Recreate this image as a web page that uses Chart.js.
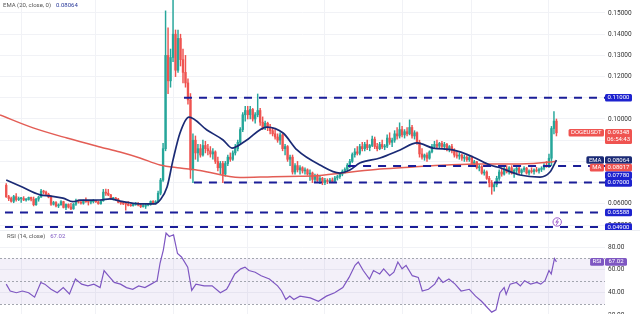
<!DOCTYPE html>
<html><head><meta charset="utf-8">
<script src="https://cdn.jsdelivr.net/npm/chart.js@4"></script>
<style>
html,body{margin:0;padding:0;background:#fff;overflow:hidden;width:640px;height:314px}
#top{position:absolute;left:0;top:0;width:640px;height:231px}
#bot{position:absolute;left:0;top:231px;width:640px;height:92px}
#sep{position:absolute;left:0;top:230px;width:640px;height:1px;background:#eceef2}
</style></head><body>
<div id="top"><canvas id="c1" width="640" height="231"></canvas></div>
<div id="sep"></div>
<div id="bot"><canvas id="c2" width="640" height="92"></canvas></div>
<script>
// ---- Daily DOGEUSDT candles (index 0 = first visible day) ----
const opens = [
.0687,.0633,.0625,.0612,.0634,.0620,.0624,.0625,.0618,.0620,
.0630,.0622,.0596,.0622,.0632,.0660,.0655,.0645,.0632,.0598,
.0606,.0590,.0595,.0610,.0583,.0597,.0585,.0576,.0598,.0613,
.0608,.0603,.0614,.0610,.0608,.0610,.0612,.0609,.0600,.0614,
.0655,.0650,.0642,.0624,.0626,.0622,.0607,.0603,.0601,.0598,
.0593,.0591,.0597,.0600,.0594,.0587,.0589,.0594,.0597,.0611,
.0605,.0610,.0650,.0712,.0860,.1300,.1180,.1290,.1400,.1230,
.1380,.1280,.1220,.1170,.1090,.0760,.0900,.0840,.0860,.0830,
.0875,.0860,.0850,.0835,.0845,.0800,.0770,.0790,.0740,.0790,
.0820,.0810,.0840,.0860,.0890,.0950,.1020,.1040,.1020,.1045,
.1000,.1020,.1040,.0985,.0960,.0980,.0960,.0945,.0930,.0915,
.0900,.0925,.0860,.0870,.0810,.0820,.0750,.0780,.0760,.0770,
.0755,.0760,.0740,.0745,.0715,.0730,.0710,.0720,.0700,.0710,
.0705,.0712,.0706,.0722,.0728,.0740,.0752,.0762,.0782,.0800,
.0832,.0845,.0838,.0870,.0860,.0880,.0865,.0875,.0905,.0870,
.0860,.0880,.0868,.0872,.0910,.0890,.0900,.0930,.0920,.0950,
.0925,.0940,.0930,.0960,.0920,.0935,.0890,.0835,.0820,.0830,
.0815,.0845,.0870,.0880,.0872,.0885,.0870,.0880,.0860,.0870,
.0850,.0830,.0825,.0830,.0815,.0820,.0808,.0818,.0790,.0798,
.0770,.0775,.0745,.0750,.0720,.0700,.0680,.0690,.0720,.0750,
.0740,.0765,.0750,.0770,.0745,.0758,.0768,.0748,.0760,.0768,
.0745,.0755,.0752,.0760,.0755,.0762,.0768,.0780,.0776,.0815,
.0955,.0990];
const highs = [
.0695,.0640,.0632,.0640,.0648,.0632,.0630,.0634,.0625,.0632,
.0632,.0632,.0626,.0636,.0668,.0664,.0660,.0650,.0638,.0612,
.0610,.0600,.0615,.0612,.0600,.0600,.0602,.0602,.0622,.0618,
.0612,.0618,.0628,.0614,.0616,.0620,.0616,.0612,.0618,.0668,
.0670,.0668,.0645,.0630,.0630,.0626,.0612,.0608,.0605,.0610,
.0598,.0600,.0606,.0606,.0597,.0596,.0597,.0600,.0614,.0615,
.0615,.0660,.0720,.0885,.1510,.1430,.1330,.1565,.1420,.1420,
.1400,.1330,.1300,.1190,.1120,.0930,.0920,.0880,.0880,.0900,
.0895,.0880,.0870,.0860,.0850,.0820,.0800,.0800,.0800,.0830,
.0840,.0850,.0880,.0900,.0960,.1030,.1060,.1060,.1060,.1050,
.1030,.1118,.1050,.1010,.0990,.0985,.0975,.0960,.0950,.0930,
.0935,.0930,.0880,.0875,.0830,.0830,.0790,.0800,.0780,.0775,
.0770,.0765,.0760,.0750,.0740,.0740,.0730,.0725,.0720,.0718,
.0720,.0722,.0730,.0735,.0745,.0760,.0770,.0790,.0810,.0840,
.0860,.0870,.0880,.0890,.0890,.0900,.0880,.0920,.0915,.0885,
.0890,.0900,.0880,.0925,.0935,.0910,.0945,.0960,.0982,.0965,
.0950,.0960,.0996,.0970,.0945,.0940,.0900,.0860,.0835,.0840,
.0850,.0880,.0895,.0900,.0890,.0895,.0890,.0885,.0875,.0880,
.0860,.0845,.0840,.0835,.0830,.0828,.0825,.0822,.0805,.0800,
.0785,.0780,.0760,.0755,.0730,.0710,.0700,.0730,.0760,.0770,
.0775,.0780,.0775,.0780,.0765,.0775,.0780,.0765,.0775,.0772,
.0760,.0770,.0765,.0772,.0768,.0775,.0790,.0800,.0835,.0965,
.1035,.1000];
const lows = [
.0630,.0615,.0608,.0605,.0612,.0615,.0607,.0615,.0612,.0617,
.0614,.0590,.0592,.0612,.0630,.0646,.0640,.0628,.0592,.0594,
.0585,.0582,.0593,.0580,.0572,.0580,.0572,.0574,.0592,.0603,
.0598,.0598,.0606,.0594,.0600,.0604,.0606,.0598,.0598,.0612,
.0640,.0638,.0620,.0618,.0618,.0604,.0597,.0596,.0570,.0590,
.0588,.0589,.0593,.0590,.0582,.0584,.0578,.0590,.0593,.0598,
.0598,.0605,.0642,.0705,.0850,.1120,.1150,.1270,.1200,.1220,
.1250,.1170,.1150,.1070,.0720,.0700,.0810,.0800,.0820,.0825,
.0840,.0830,.0820,.0810,.0790,.0755,.0740,.0700,.0730,.0780,
.0800,.0805,.0830,.0850,.0880,.0940,.0990,.1000,.1000,.0990,
.0980,.1010,.0970,.0950,.0950,.0945,.0930,.0920,.0905,.0890,
.0880,.0850,.0830,.0800,.0780,.0740,.0740,.0750,.0740,.0745,
.0740,.0735,.0710,.0700,.0700,.0705,.0695,.0690,.0690,.0695,
.0700,.0700,.0702,.0712,.0720,.0732,.0745,.0755,.0770,.0795,
.0820,.0830,.0830,.0850,.0850,.0855,.0850,.0870,.0860,.0850,
.0855,.0860,.0855,.0865,.0880,.0870,.0890,.0905,.0910,.0915,
.0910,.0920,.0925,.0910,.0905,.0880,.0820,.0810,.0805,.0800,
.0810,.0840,.0860,.0865,.0860,.0865,.0855,.0850,.0845,.0840,
.0820,.0815,.0810,.0805,.0800,.0800,.0800,.0785,.0780,.0765,
.0755,.0740,.0735,.0715,.0680,.0645,.0660,.0680,.0710,.0730,
.0735,.0745,.0740,.0740,.0725,.0745,.0740,.0735,.0750,.0740,
.0735,.0745,.0740,.0750,.0745,.0752,.0760,.0772,.0770,.0780,
.0930,.0920];
const closes = [
.0633,.0625,.0612,.0634,.0620,.0624,.0625,.0618,.0620,.0630,
.0622,.0596,.0622,.0632,.0660,.0655,.0645,.0632,.0598,.0606,
.0590,.0595,.0610,.0583,.0597,.0585,.0576,.0598,.0613,.0608,
.0603,.0614,.0610,.0608,.0610,.0612,.0609,.0600,.0614,.0655,
.0650,.0642,.0624,.0626,.0622,.0607,.0603,.0601,.0598,.0593,
.0591,.0597,.0600,.0594,.0587,.0589,.0594,.0597,.0611,.0605,
.0610,.0650,.0712,.0860,.1300,.1180,.1290,.1400,.1230,.1380,
.1280,.1220,.1170,.1090,.0760,.0900,.0840,.0860,.0830,.0875,
.0860,.0850,.0835,.0845,.0800,.0770,.0790,.0740,.0790,.0820,
.0810,.0840,.0860,.0890,.0950,.1020,.1040,.1020,.1045,.1000,
.1020,.1040,.0985,.0960,.0980,.0960,.0945,.0930,.0915,.0900,
.0925,.0860,.0870,.0810,.0820,.0750,.0780,.0760,.0770,.0755,
.0760,.0740,.0745,.0715,.0730,.0710,.0720,.0700,.0710,.0705,
.0712,.0706,.0722,.0728,.0740,.0752,.0762,.0782,.0800,.0832,
.0845,.0838,.0870,.0860,.0880,.0865,.0875,.0905,.0870,.0860,
.0880,.0868,.0872,.0910,.0890,.0900,.0930,.0920,.0950,.0925,
.0940,.0930,.0960,.0920,.0935,.0890,.0835,.0820,.0830,.0815,
.0845,.0870,.0880,.0872,.0885,.0870,.0880,.0860,.0870,.0850,
.0830,.0825,.0830,.0815,.0820,.0808,.0818,.0790,.0798,.0770,
.0775,.0745,.0750,.0720,.0700,.0680,.0690,.0720,.0750,.0740,
.0765,.0750,.0770,.0745,.0758,.0768,.0748,.0760,.0768,.0745,
.0755,.0752,.0760,.0755,.0762,.0768,.0780,.0776,.0815,.0955,
.0990,.09348];

// EMA(20): candle index -> value
const emaIdx = [0,5.5,13.6,17.6,22.8,26.8,29.6,37.7,41.7,45.7,53.7,59.7,61.8,64.6,67,69.8,73.4,80.6,87.1,90.7,95.9,104.7,111.2,116.8,126,134,138,142,150.1,158.2,165,171.4,179.4,187.5,194.3,198.3,206.3,214.4,218.4,221];
const emaVal = [0.0712,0.0684,0.0642,0.0637,0.0627,0.0610,0.0617,0.0618,0.0623,0.0613,0.0600,0.0600,0.0618,0.0679,0.0807,0.0934,0.1009,0.0948,0.0901,0.0863,0.0895,0.0962,0.0934,0.0854,0.0783,0.0745,0.0759,0.0792,0.0816,0.0854,0.0887,0.0863,0.0854,0.0821,0.0783,0.0770,0.0736,0.0726,0.0750,0.08064];

// MA(200)
const maIdx = [-2.5,10.8,24.4,37.7,45.7,53.7,61.8,69.8,77.8,93.9,107.1,118,123.2,136.9,150.1,163.4,177,190.3,206.3,218.4,221];
const maVal = [0.1019,0.0958,0.0910,0.0868,0.0844,0.0816,0.0783,0.0769,0.0757,0.0724,0.0728,0.0730,0.0731,0.0748,0.0764,0.0774,0.0783,0.0788,0.0788,0.0797,0.08017];

// Horizontal support / resistance levels and the candle index they start at
const levelValues = [0.11, 0.0778, 0.07, 0.05588, 0.049];
const levelStart  = [71.4, 137.3, 75.4, -0.5, -0.5];

// RSI(14)
const rsiIdx = [0,1.6,4.1,6.5,9,11.4,13.9,15.5,18,20.5,22.9,25.4,27.8,30.3,32.8,35.2,37.7,39.3,41,43.4,45.9,48.3,50.8,53.2,55.7,58.2,60.6,61.8,63.1,64.2,65.5,67.2,68.8,70.4,72.9,74.5,76.2,79.5,82.7,86,88.5,89.3,91.8,94.2,95.9,97.5,100,102.4,105.7,109,110.6,112.3,113.9,115.5,118,122.1,125.4,128.6,131.9,135.2,137.7,140.1,141.4,143.4,145.9,147.5,150,151.6,154,155.7,157.3,159,160.6,163.1,165.5,167.1,169.6,172.1,173.7,175.4,177.8,180.3,182.7,186,188.5,190.9,193.4,195,196.7,198.3,200,200.8,202.4,204.9,206.5,208.2,210.6,213.1,214.7,216.4,218,218.9,220.2,221];
const rsiVal = [47.5,41.5,40,41.5,40,36.1,49,47.5,43,40,44.5,39,52,47.5,46,47.5,44.5,59.4,55,49,47.5,44.5,43,46,44.5,47.5,50.5,66,77.3,92.2,89.2,90.7,74.3,71.3,62.4,42,47.5,46,46,40,43,46,56.4,60.9,62.4,59.4,57.9,54.9,52,46,41.5,34,37,34,37,35.5,32.5,37,40,44.5,53.4,64,66.9,59.4,52,59.4,56.4,60.9,54.9,57.9,66.9,60.9,63.9,54.9,53.4,41.5,43,47.5,53.4,49,52,47.5,41.5,43,37,32.5,26.6,23,25,40,44.5,38.5,47.5,49,46,50.5,47.5,49,47.5,50.5,59.4,56.4,69.9,67.02];

// Axis ticks
const priceTicks = [0.05,0.06,0.07,0.08,0.09,0.10,0.11,0.12,0.13,0.14,0.15];
const rsiTicks = [20,40,60,80];
const monthIdx = [6,36,67,97,128,159,187,218];
const symbol = 'DOGEUSDT';
const countdown = '06:54:43';

// ---- styling ----
const UP='#26a69a', DOWN='#ef5350';
const LEVEL='#1b1e98', LBOX='#1d22cf', NAVY='#1a2a75', MARED='#e35d55', PURPLE='#7e57c2';
const FONT='Roboto, "Liberation Sans", Arial, sans-serif';
const X_MIN=-2.5, X_MAX=240.5;
const GRID='#f1f2f6';

const idx = closes.map((_,i)=>i);
const candleColor = closes.map((c,i)=> c>=opens[i]?UP:DOWN);
const lastClose = closes[closes.length-1];
const emaLast = emaVal[emaVal.length-1];
const maLast = maVal[maVal.length-1];
const rsiLast = rsiVal[rsiVal.length-1];

function box(ctx,x,top,w,h,bg,lines,fg){
  ctx.fillStyle=bg;
  ctx.beginPath();
  if (ctx.roundRect) ctx.roundRect(x,top,w,h,1.5); else ctx.rect(x,top,w,h);
  ctx.fill();
  ctx.fillStyle=fg||'#fff';
  ctx.textAlign='center'; ctx.textBaseline='middle';
  lines.forEach((t,k)=>ctx.fillText(t, x+w/2, top+3.9+k*7));
}

function xScaleOpts(){
  return {type:'linear', min:X_MIN, max:X_MAX, display:true, offset:false,
    afterBuildTicks:s=>{s.ticks=monthIdx.map(v=>({value:v}));},
    ticks:{display:false}, grid:{color:GRID, drawTicks:false, offset:false}, border:{display:false},
    afterFit:s=>{s.height=0; s.paddingLeft=0; s.paddingRight=0;}};
}

const topOverlay = {
  id:'topOverlay',
  afterDraw(chart){
    const ctx=chart.ctx, ys=chart.scales.y, xs=chart.scales.x;
    ctx.save();
    ctx.font='6px '+FONT;
    ctx.textAlign='left'; ctx.textBaseline='middle';
    ctx.fillStyle='#555';
    const lg='EMA (20, close, 0)';
    ctx.fillText(lg,3,5.5);
    ctx.fillStyle='#2a3a9a';
    ctx.fillText(emaLast.toFixed(5), 3+ctx.measureText(lg).width+5, 5.5);
    // event marker
    const mx=xs.getPixelForValue(221.3), my=222;
    ctx.strokeStyle='#9b59c9'; ctx.lineWidth=1;
    ctx.beginPath(); ctx.arc(mx,my,4.2,0,Math.PI*2); ctx.stroke();
    ctx.beginPath(); ctx.moveTo(mx+0.8,my-2.8); ctx.lineTo(mx-1.4,my+0.3); ctx.lineTo(mx+1.2,my-0.3); ctx.lineTo(mx-0.9,my+2.9); ctx.stroke();
    // price-axis labels
    const labels=[
      {v:levelValues[0], bg:LBOX, lines:[levelValues[0].toFixed(5)]},
      {v:lastClose, bg:DOWN, lines:[lastClose.toFixed(5), countdown], tag:symbol, h:15},
      {v:emaLast, bg:NAVY, lines:[emaLast.toFixed(5)], tag:'EMA'},
      {v:maLast, bg:DOWN, lines:[maLast.toFixed(5)], tag:'MA'},
      {v:levelValues[1], bg:LBOX, lines:[levelValues[1].toFixed(5)]},
      {v:levelValues[2], bg:LBOX, lines:[levelValues[2].toFixed(5)]},
      {v:levelValues[3], bg:LBOX, lines:[levelValues[3].toFixed(5)]},
      {v:levelValues[4], bg:LBOX, lines:[levelValues[4].toFixed(5)]}
    ].map(l=>Object.assign({y:ys.getPixelForValue(l.v), h:l.h||7.6},l)).sort((a,b)=>a.y-b.y);
    let prev=-1e9;
    const bx=chart.chartArea.right, bw=27;
    labels.forEach(l=>{
      let top=l.y-3.8; if(top<prev) top=prev; prev=top+l.h;
      box(ctx,bx,top,bw,l.h,l.bg,l.lines,'#fff');
      if(l.tag){
        const tw=ctx.measureText(l.tag).width+5;
        box(ctx,bx-1-tw,top,tw,7.6,l.bg,[l.tag],'#fff');
      }
    });
    ctx.restore();
  }
};

const levelDatasets = levelValues.map((v,k)=>({
  type:'line', data:[{x:levelStart[k],y:v},{x:X_MAX,y:v}],
  borderColor:LEVEL, borderWidth:2, borderDash:[8,7], pointRadius:0, order:1
}));

new Chart(document.getElementById('c1'),{
  type:'bar',
  data:{datasets:[
    ...levelDatasets,
    {type:'line', data:emaIdx.map((x,i)=>({x,y:emaVal[i]})), borderColor:NAVY, borderWidth:1.7, pointRadius:0, cubicInterpolationMode:'monotone', order:2},
    {type:'line', data:maIdx.map((x,i)=>({x,y:maVal[i]})), borderColor:MARED, borderWidth:1.5, pointRadius:0, cubicInterpolationMode:'monotone', order:3},
    {type:'bar', data:idx.map(i=>({x:i,y:[opens[i],closes[i]]})), backgroundColor:candleColor, grouped:false, barPercentage:1, categoryPercentage:1, maxBarThickness:1.7, minBarLength:1, order:5},
    {type:'bar', data:idx.map(i=>({x:i,y:[lows[i],highs[i]]})), backgroundColor:candleColor, grouped:false, barPercentage:1, categoryPercentage:1, maxBarThickness:0.8, order:6}
  ]},
  options:{
    responsive:false, animation:false, devicePixelRatio:1,
    layout:{padding:0},
    plugins:{legend:{display:false}, tooltip:{enabled:false}},
    scales:{
      x:xScaleOpts(),
      y:{type:'linear', position:'right', min:0.04717, max:0.15613,
        afterBuildTicks:s=>{s.ticks=priceTicks.map(v=>({value:v}));},
        ticks:{callback:v=>Number(v).toFixed(5), font:{size:6.5, family:FONT}, color:'#333', padding:3},
        grid:{color:GRID, drawTicks:false}, border:{display:false},
        afterFit:s=>{s.width=35; s.paddingTop=0; s.paddingBottom=0;}}
    }
  },
  plugins:[topOverlay]
});

const rsiOverlay = {
  id:'rsiOverlay',
  beforeDatasetsDraw(chart){
    const ctx=chart.ctx, ys=chart.scales.y, a=chart.chartArea;
    ctx.save();
    const y70=ys.getPixelForValue(70), y30=ys.getPixelForValue(30), y50=ys.getPixelForValue(50);
    ctx.fillStyle='rgba(126,87,194,0.09)';
    ctx.fillRect(a.left,y70,a.right-a.left,y30-y70);
    ctx.strokeStyle='#a3a6af'; ctx.lineWidth=1; ctx.setLineDash([2,2]);
    [y70,y50,y30].forEach(y=>{ctx.beginPath(); ctx.moveTo(a.left,Math.round(y)+0.5); ctx.lineTo(a.right,Math.round(y)+0.5); ctx.stroke();});
    ctx.restore();
  },
  afterDraw(chart){
    const ctx=chart.ctx, ys=chart.scales.y, a=chart.chartArea;
    ctx.save();
    ctx.font='6px '+FONT;
    ctx.textAlign='left'; ctx.textBaseline='middle';
    ctx.fillStyle='#555';
    const lg='RSI (14, close)';
    ctx.fillText(lg,7,5);
    ctx.fillStyle=PURPLE;
    ctx.fillText(rsiLast.toFixed(2), 7+ctx.measureText(lg).width+5, 5);
    const y=ys.getPixelForValue(rsiLast)-3.8;
    box(ctx,a.right,y,22,7.6,PURPLE,[rsiLast.toFixed(2)],'#fff');
    const tw=ctx.measureText('RSI').width+5;
    box(ctx,a.right-1-tw,y,tw,7.6,PURPLE,['RSI'],'#fff');
    ctx.restore();
  }
};

new Chart(document.getElementById('c2'),{
  type:'line',
  data:{datasets:[
    {data:rsiIdx.map((x,i)=>({x,y:rsiVal[i]})), borderColor:PURPLE, borderWidth:1.2, pointRadius:0, tension:0}
  ]},
  options:{
    responsive:false, animation:false, devicePixelRatio:1,
    layout:{padding:0},
    plugins:{legend:{display:false}, tooltip:{enabled:false}},
    scales:{
      x:xScaleOpts(),
      y:{type:'linear', position:'right', min:13.5, max:94,
        afterBuildTicks:s=>{s.ticks=rsiTicks.map(v=>({value:v}));},
        ticks:{callback:v=>Number(v).toFixed(2), font:{size:6.5, family:FONT}, color:'#333', padding:3},
        grid:{color:GRID, drawTicks:false}, border:{display:false},
        afterFit:s=>{s.width=35; s.paddingTop=0; s.paddingBottom=0;}}
    }
  },
  plugins:[rsiOverlay]
});
</script>
</body></html>
